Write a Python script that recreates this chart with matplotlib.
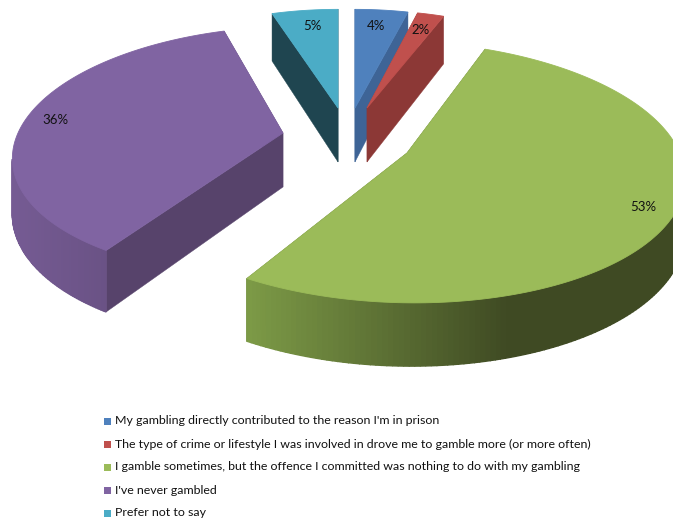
import numpy as np
import matplotlib
matplotlib.use('Agg')
import matplotlib.pyplot as plt
from matplotlib.colors import to_rgb

# chart data
labels = ["My gambling directly contributed to the reason I'm in prison",
          "The type of crime or lifestyle I was involved in drove me to gamble more (or more often)",
          "I gamble sometimes, but the offence I committed was nothing to do with my gambling",
          "I've never gambled",
          "Prefer not to say"]
values = [4, 2, 53, 36, 5]

# colours
top_colors = ['#4F81BD', '#C0504D', '#9BBB59', '#8064A2', '#4BACC6']
face_colors = ['#3E6496', '#8C3836', '#404A24', '#57436B', '#1F4550']
rim_colors = [('#3E6496', '#3E6496'), ('#8C3836', '#8C3836'), ('#7D9B47', '#3F4A23'),
              ('#6A5285', '#755B93'), ('#1F4550', '#1F4550')]
rim_x = [(0, 1), (0, 1), (247, 510), (107, 15), (0, 1)]

# where each exploded slice sits on the page (apex x, apex y) and its projection
apex = [(355, 108), (367, 108), (407, 153), (283, 133), (338, 108)]
radius_x = [243, 244, 281, 265, 243]
radius_y = [113, 112, 128, 122, 113]
skew = [0, -3, -15, 15.6, 0]
tilt = [0, 0, 0.03, 0, 0]
label_pos = [(376, 26), (421, 30), (643, 207), (55, 120), (312, 26)]

persp = 0.1455
depth = 54


def project(i, theta):
    u = np.sin(theta)
    v = np.cos(theta)
    w = 1 + persp * v + tilt[i] * u
    x = apex[i][0] + (radius_x[i] * u + skew[i] * v) / w
    y = apex[i][1] - radius_y[i] * v / w
    return x, y, depth / w


fig = plt.figure(figsize=(6.73, 5.23), dpi=100)
ax = fig.add_axes([0, 0, 1, 1])
ax.set_xlim(0, 673)
ax.set_ylim(523, 0)
ax.axis('off')

# slice angles, clockwise from 12 o'clock
ends = np.cumsum(values) / sum(values) * 2 * np.pi
starts = np.concatenate([[0], ends[:-1]])


def cut_face(i, theta):
    x, y, h = project(i, theta)
    x0, y0 = apex[i]
    ax.fill([x0, x, x, x0], [y0, y, y + h, y0 + depth], color=face_colors[i], lw=0.3)


# back slices first so the front ones overlap them
for i in [3, 4, 0, 1, 2]:
    t = np.linspace(starts[i], ends[i], 200)
    x, y, h = project(i, t)

    # cut faces, the visible one last
    if np.sin((starts[i] + ends[i]) / 2) > 0:
        cut_face(i, starts[i])
        cut_face(i, ends[i])
    else:
        cut_face(i, ends[i])
        cut_face(i, starts[i])

    # outer rim, shaded along x, only the part facing the viewer
    c0 = np.array(to_rgb(rim_colors[i][0]))
    c1 = np.array(to_rgb(rim_colors[i][1]))
    x_a, x_b = rim_x[i]
    for j in range(len(t) - 1):
        if x[j + 1] >= x[j]:
            continue
        f = np.clip((x[j] - x_a) / (x_b - x_a), 0, 1)
        col = c0 + (c1 - c0) * f
        ax.fill([x[j], x[j + 1], x[j + 1], x[j]],
                [y[j], y[j + 1], y[j + 1] + h[j + 1], y[j] + h[j]],
                color=col, lw=1.0)

    # top surface
    ax.fill(np.r_[apex[i][0], x], np.r_[apex[i][1], y], color=top_colors[i], lw=0.6)

# percent labels
for i, v in enumerate(values):
    ax.text(label_pos[i][0], label_pos[i][1], str(v) + '%', ha='center', va='center',
            fontsize=9.5, family='Lato', color='#111111')

# legend
legend_y = [421, 444, 467, 490, 513]
for i, lab in enumerate(labels):
    ax.fill([104, 111, 111, 104],
            [legend_y[i] - 3.5, legend_y[i] - 3.5, legend_y[i] + 3.5, legend_y[i] + 3.5],
            color=top_colors[i], lw=0)
    ax.text(115, legend_y[i], lab, ha='left', va='center', fontsize=8.95, family='Lato',
            color='#111111')

fig.savefig('out.png', dpi=100)
